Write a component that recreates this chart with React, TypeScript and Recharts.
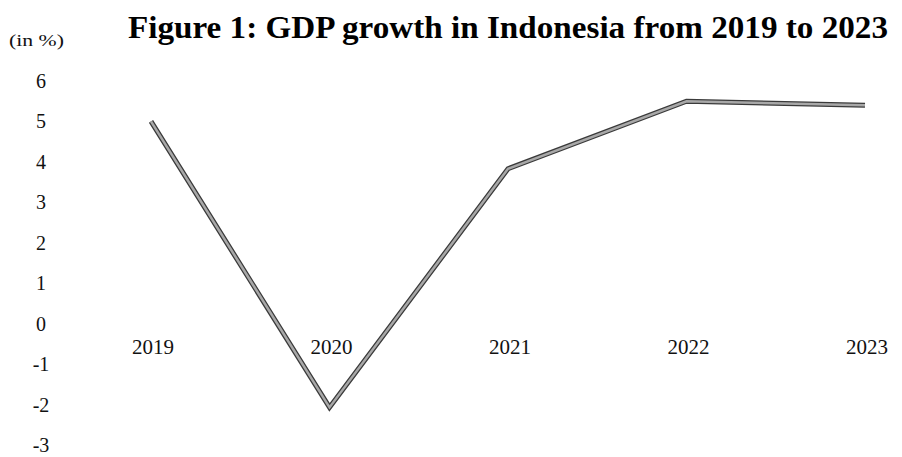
import React from "react";
import { LineChart, Line, XAxis, YAxis, ReferenceDot } from "recharts";

const years = ["2019", "2020", "2021", "2022", "2023"];
const growth = [5.0, -2.07, 3.83, 5.5, 5.4];
const yTicks = [-3, -2, -1, 0, 1, 2, 3, 4, 5, 6];

const data = years.map((y, i) => ({ year: y, value: growth[i] }));

const FONT = '"Liberation Serif", "Times New Roman", serif';

const YTick = (props: any) => {
  const { x, y, payload } = props;
  return (
    <text x={x - 110} y={y} dy={7} textAnchor="middle" fontFamily={FONT} fontSize={20} fill="#111">
      {payload.value}
    </text>
  );
};

const YearLabel = (props: any) => {
  const { viewBox, value } = props;
  const cx = viewBox.x + (viewBox.width || 0) / 2;
  const cy = viewBox.y + (viewBox.height || 0) / 2;
  return (
    <text x={cx + 2} y={cy + 30} textAnchor="middle" fontFamily={FONT} fontSize={21} fill="#111">
      {value}
    </text>
  );
};

export default function App() {
  return (
    <div style={{ position: "absolute", left: 0, top: 0, background: "#fff" }}>
      <LineChart
        width={902}
        height={457}
        data={data}
        margin={{ top: 81, right: 37, bottom: 12, left: 61 }}
      >
        <text x={9} y={46} fontFamily={FONT} fontSize={17} fill="#111" textLength={55} lengthAdjust="spacingAndGlyphs">
          (in %)
        </text>
        <text x={128} y={38} fontFamily={FONT} fontSize={31} fontWeight="bold" fill="#000" textLength={760} lengthAdjust="spacingAndGlyphs">
          Figure 1: GDP growth in Indonesia from 2019 to 2023
        </text>
        <XAxis dataKey="year" hide padding={{ left: 0, right: 0 }} />
        <YAxis
          width={90}
          domain={[-3, 6]}
          ticks={yTicks}
          axisLine={false}
          tickLine={false}
          tickSize={0}
          tickMargin={0}
          tick={<YTick />}
          interval={0}
        />
        {years.map((y) => (
          <ReferenceDot
            key={y}
            x={y}
            y={0}
            r={0}
            fill="none"
            stroke="none"
            label={<YearLabel value={y} />}
          />
        ))}
        <Line
          dataKey="value"
          stroke="#3a3a3a"
          strokeWidth={5}
          dot={false}
          isAnimationActive={false}
          strokeLinejoin="miter"
        />
        <Line
          dataKey="value"
          stroke="#a8a8a8"
          strokeWidth={2.5}
          dot={false}
          isAnimationActive={false}
          strokeLinejoin="miter"
        />
      </LineChart>
    </div>
  );
}
